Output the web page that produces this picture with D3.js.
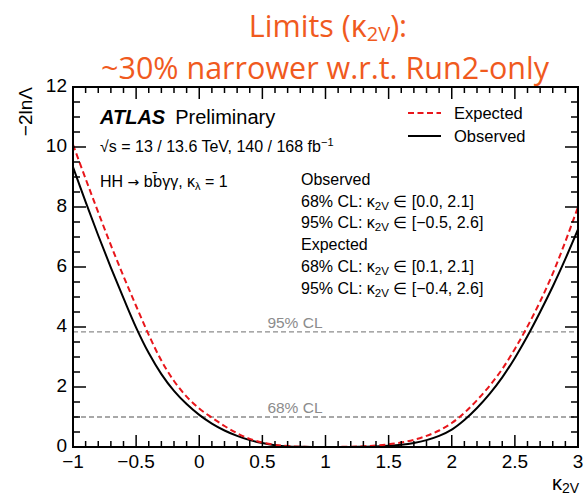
<!DOCTYPE html>
<html><head><meta charset="utf-8">
<script src="https://cdn.jsdelivr.net/npm/d3@7"></script>
<style>body{margin:0;background:#fff}svg{display:block}</style>
</head><body>
<script>
const kappa = [-1.0,-0.9,-0.8,-0.7,-0.6,-0.5,-0.4,-0.3,-0.2,-0.1,0.0,0.1,0.2,0.3,0.4,0.5,0.6,0.7,0.8,0.9,1.0,1.1,1.2,1.3,1.4,1.5,1.6,1.7,1.8,1.9,2.0,2.1,2.2,2.3,2.4,2.5,2.6,2.7,2.8,2.9,3.0];
const observed = [9.33,8.17,7.05,5.98,4.96,3.98,3.13,2.43,1.87,1.43,1.07,0.78,0.55,0.37,0.23,0.13,0.06,0.02,0.005,0,0,0,0.003,0.01,0.02,0.04,0.075,0.135,0.23,0.37,0.58,0.9,1.3,1.77,2.32,2.97,3.7,4.5,5.35,6.27,7.25];
const expected = [10.08,8.94,7.82,6.73,5.69,4.7,3.74,2.88,2.2,1.68,1.28,0.98,0.7,0.46,0.27,0.15,0.07,0.03,0.01,0.002,0,0.003,0.01,0.025,0.05,0.09,0.15,0.24,0.37,0.55,0.8,1.14,1.56,2.04,2.6,3.27,4.02,4.85,5.78,6.85,8.0];
const xTicks = [-1,-0.5,0,0.5,1,1.5,2,2.5,3];
const yTicks = [0,2,4,6,8,10,12];
const clLevels = [3.84, 1.0];
const clLabels = ["95% CL", "68% CL"];
const infoLines = [
  {t:"Observed"},
  {t:"68% CL: ", lo:"0.0", hi:"2.1"},
  {t:"95% CL: ", lo:"\u22120.5", hi:"2.6"},
  {t:"Expected"},
  {t:"68% CL: ", lo:"0.1", hi:"2.1"},
  {t:"95% CL: ", lo:"\u22120.4", hi:"2.6"}
];

const W = 585, H = 496;
const m = {l:73, r:578, t:87, b:447};
const svg = d3.select("body").append("svg").attr("width",W).attr("height",H);
const x = d3.scaleLinear().domain([-1,3]).range([m.l,m.r]);
const y = d3.scaleLinear().domain([0,12]).range([m.b,m.t]);
const F = "'Liberation Sans', Arial, sans-serif";

// title
const title = svg.append("g").attr("font-family","'Open Sans', sans-serif").attr("fill","#f05a1e").attr("text-anchor","middle");
const t1 = title.append("text").attr("x",328).attr("y",37).attr("font-size",30.5);
t1.append("tspan").text("Limits (\u03ba");
t1.append("tspan").attr("font-size",20).attr("dy",4).text("2V");
t1.append("tspan").attr("dy",-4).text("):");
title.append("text").attr("x",325).attr("y",79).attr("font-size",30.5).text("~30% narrower w.r.t. Run2-only");

// clip
svg.append("clipPath").attr("id","clip").append("rect").attr("x",m.l).attr("y",m.t).attr("width",m.r-m.l).attr("height",m.b-m.t);

// CL lines
clLevels.forEach((v,i)=>{
  svg.append("line").attr("x1",m.l).attr("x2",m.r).attr("y1",y(v)).attr("y2",y(v))
    .attr("stroke","#8c8c8c").attr("stroke-width",1.3).attr("stroke-dasharray","5,3");
  svg.append("text").attr("x",x(0.5)+5).attr("y",y(v)-4).attr("font-family",F).attr("font-size",15.5)
    .attr("fill","#8c8c8c").text(clLabels[i]);
});

// curves
const line = d3.line().x(d=>x(d[0])).y(d=>y(d[1])).curve(d3.curveCatmullRom.alpha(0.5));
const g = svg.append("g").attr("clip-path","url(#clip)");
g.append("path").datum(kappa.map((k,i)=>[k,observed[i]])).attr("d",line)
  .attr("fill","none").attr("stroke","#000").attr("stroke-width",2);
g.append("path").datum(kappa.map((k,i)=>[k,expected[i]])).attr("d",line)
  .attr("fill","none").attr("stroke","#e8161b").attr("stroke-width",2).attr("stroke-dasharray","6,3.5");

// frame & ticks
const ax = svg.append("g").attr("stroke","#000");
ax.append("rect").attr("x",m.l).attr("y",m.t).attr("width",m.r-m.l).attr("height",m.b-m.t)
  .attr("fill","none").attr("stroke-width",2);
const xMinor = d3.range(-1,3.0001,0.1);
xMinor.forEach(v=>{
  const major = xTicks.some(t=>Math.abs(t-v)<1e-6);
  const L = major?12:6;
  ax.append("line").attr("x1",x(v)).attr("x2",x(v)).attr("y1",m.b).attr("y2",m.b-L).attr("stroke-width",1.5);
  ax.append("line").attr("x1",x(v)).attr("x2",x(v)).attr("y1",m.t).attr("y2",m.t+L).attr("stroke-width",1.5);
});
const yMinor = d3.range(0,12.0001,0.5);
yMinor.forEach(v=>{
  const major = yTicks.some(t=>Math.abs(t-v)<1e-6);
  const L = major?13:7;
  ax.append("line").attr("y1",y(v)).attr("y2",y(v)).attr("x1",m.l).attr("x2",m.l+L).attr("stroke-width",1.5);
  ax.append("line").attr("y1",y(v)).attr("y2",y(v)).attr("x1",m.r).attr("x2",m.r-L).attr("stroke-width",1.5);
});
const fmt = v => (v<0?"\u2212":"") + Math.abs(v);
svg.append("g").selectAll("text").data(xTicks).join("text")
  .attr("x",d=>x(d)).attr("y",468).attr("text-anchor","middle").attr("font-family",F).attr("font-size",19).text(fmt);
svg.append("g").selectAll("text").data(yTicks).join("text")
  .attr("x",67).attr("y",d=>y(d)+5).attr("text-anchor","end").attr("font-family",F).attr("font-size",19).text(fmt);

// axis titles
svg.append("text").attr("transform",`translate(32,${m.t}) rotate(-90)`).attr("text-anchor","end")
  .attr("font-family",F).attr("font-size",19).text("\u22122ln\u039b");
const xt = svg.append("text").attr("x",579).attr("y",490).attr("text-anchor","end").attr("font-family",F).attr("font-size",20);
xt.append("tspan").text("\u03ba");
xt.append("tspan").attr("font-size",14).attr("dy",3).text("2V");

// ATLAS label
const at = svg.append("text").attr("x",100).attr("y",124).attr("font-family",F).attr("font-size",20);
at.append("tspan").attr("font-weight","bold").attr("font-style","italic").text("ATLAS");
at.append("tspan").attr("dx",10).text("Preliminary");
const en = svg.append("text").attr("x",100).attr("y",152).attr("font-family",F).attr("font-size",16);
en.append("tspan").text("\u221as = 13 / 13.6 TeV, 140 / 168 fb");
en.append("tspan").attr("font-size",11).attr("dy",-6).text("\u22121");
const hh = svg.append("text").attr("x",100).attr("y",187).attr("font-family",F).attr("font-size",16);
hh.append("tspan").text("HH ");
hh.append("tspan").attr("font-family","'DejaVu Sans', sans-serif").attr("font-size",14).text("\u2192");
hh.append("tspan").text(" b");
hh.append("tspan").attr("font-family","'DejaVu Sans', sans-serif").attr("font-size",15).text("b\u0304");
hh.append("tspan").text("\u03b3\u03b3, \u03ba");
hh.append("tspan").attr("font-size",11).attr("dy",3).text("\u03bb");
hh.append("tspan").attr("dy",-3).text(" = 1");

// legend
svg.append("line").attr("x1",408).attr("x2",441).attr("y1",113).attr("y2",113).attr("stroke","#e8161b").attr("stroke-width",2).attr("stroke-dasharray","6,3.5");
svg.append("line").attr("x1",408).attr("x2",441).attr("y1",136).attr("y2",136).attr("stroke","#000").attr("stroke-width",2);
svg.append("text").attr("x",454).attr("y",119).attr("font-family",F).attr("font-size",16.5).text("Expected");
svg.append("text").attr("x",454).attr("y",142).attr("font-family",F).attr("font-size",16.5).text("Observed");

// info block
infoLines.forEach((d,i)=>{
  const t = svg.append("text").attr("x",301).attr("y",185+i*21.7).attr("font-family",F).attr("font-size",16);
  if (d.lo===undefined) { t.text(d.t); return; }
  t.append("tspan").text(d.t+"\u03ba");
  t.append("tspan").attr("font-size",11.5).attr("dy",3).text("2V");
  t.append("tspan").attr("dy",-3).text(" \u2208 ["+d.lo+", "+d.hi+"]");
});
</script>
</body></html>
